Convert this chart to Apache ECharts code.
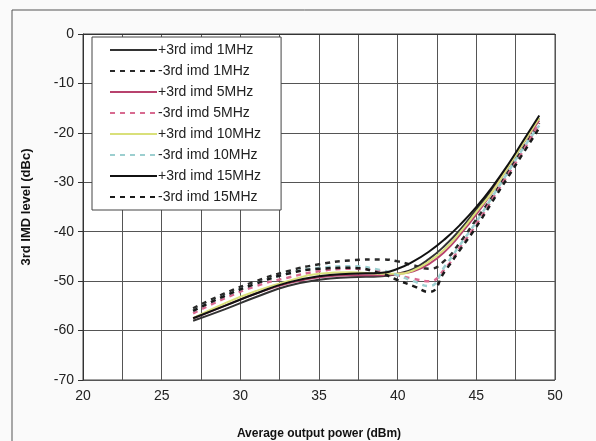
<!DOCTYPE html>
<html><head><meta charset="utf-8">
<script src="https://cdn.jsdelivr.net/npm/echarts@6/dist/echarts.min.js"></script>
<style>html,body{margin:0;padding:0;background:#fafafa}#c{width:596px;height:441px}</style>
</head><body><div id="c"></div>
<script>
const xs = [27, 29, 31, 33, 35, 37, 39, 40, 41, 42, 43, 44, 45, 46, 47, 48, 49];
const names = ['+3rd imd 1MHz','-3rd imd 1MHz','+3rd imd 5MHz','-3rd imd 5MHz','+3rd imd 10MHz','-3rd imd 10MHz','+3rd imd 15MHz','-3rd imd 15MHz'];
const p1  = [-58, -55.7, -53.2, -51, -49.7, -49.2, -49, -48.5, -47.5, -45.5, -42.8, -39.5, -35.5, -31.5, -27, -22, -17];
const m1  = [-55.5, -52.5, -50, -48, -46.6, -45.8, -45.6, -46, -46.8, -47.5, -45.8, -42, -37.5, -33, -28, -23, -18];
const p5  = [-57.5, -55, -52.5, -50.5, -49.2, -48.8, -48.8, -48.5, -48, -46.5, -44, -40.5, -36.5, -32, -27, -22, -17.5];
const m5  = [-56.5, -53.5, -51, -49.3, -48, -47.5, -48, -48.8, -49.5, -50, -47.5, -43, -38.5, -33.5, -28.5, -23.5, -18];
const p10 = [-57.5, -54.5, -52, -50, -48.5, -48.2, -48.5, -48.5, -47.8, -46, -43.5, -40, -36, -32, -27, -22, -17];
const m10 = [-56, -53, -50.5, -48.5, -47.3, -47, -47.8, -48.8, -50, -51, -47, -42.5, -38, -33, -28, -23, -18.5];
const p15 = [-57.5, -55, -52.5, -50.3, -49, -48.5, -48.3, -47.5, -46, -44, -41.5, -38.5, -35, -31, -26.5, -21.5, -16.5];
const m15 = [-56, -53, -50.5, -48.5, -47.5, -47.3, -48.5, -49.8, -51, -52.2, -48, -43.5, -39, -34, -29, -24, -19];
const values = [p1, m1, p5, m5, p10, m10, p15, m15];
const colors = ['#333333', '#2a2a2a', '#b8436e', '#d86a90', '#d9e07a', '#9ccfd0', '#111111', '#1a1a1a'];
const dashed = [false, true, false, true, false, true, false, true];

const chart = echarts.init(document.getElementById('c'), null, {renderer: 'canvas'});
const series = names.map((n, i) => ({
  name: n, type: 'line', smooth: true, symbol: 'none',
  data: xs.map((x, j) => [x, values[i][j]]),
  lineStyle: {color: colors[i], width: dashed[i] ? 2.5 : 2, type: dashed[i] ? [5, 5] : 'solid'},
  itemStyle: {color: colors[i]},
  z: 3
}));
chart.setOption({
  backgroundColor: '#fafafa',
  animation: false,
  textStyle: {fontFamily: 'Liberation Sans, Arial, sans-serif'},
  graphic: [{type: 'rect', shape: {x: 12, y: 10, width: 620, height: 480}, style: {fill: 'none', stroke: '#555', lineWidth: 1}, z: -1}],
  grid: {left: 83, right: 41, top: 34, bottom: 61, outerBoundsMode: 'none', containLabel: false, show: true, backgroundColor: '#ffffff', borderColor: '#444', borderWidth: 1},
  legend: {
    orient: 'vertical', left: 92, top: 37,
    padding: [6, 20, 6, 17], itemWidth: 47, itemHeight: 14, itemGap: 7,
    backgroundColor: '#ffffff', borderColor: '#444', borderWidth: 1,
    itemStyle: {opacity: 0},
    textStyle: {fontSize: 14, color: '#222', padding: [0, 0, 0, -4]},
    data: names.map((n) => ({name: n}))
  },
  xAxis: {
    type: 'value', min: 20, max: 50, interval: 2.5,
    name: 'Average output power (dBm)', nameLocation: 'middle', nameGap: 48,
    nameTextStyle: {fontSize: 12, fontWeight: 'bold', color: '#111'},
    axisLine: {show: true, lineStyle: {color: '#333'}},
    axisTick: {show: false},
    axisLabel: {fontSize: 14, color: '#222', margin: 9, formatter: v => (v % 5 === 0 ? String(v) : '')},
    splitLine: {show: true, lineStyle: {color: '#555', width: 1}}
  },
  yAxis: {
    type: 'value', min: -70, max: 0, interval: 10,
    name: '3rd IMD level (dBc)', nameLocation: 'middle', nameGap: 50, nameRotate: 90,
    nameTextStyle: {fontSize: 13, fontWeight: 'bold', color: '#111'},
    axisLine: {show: true, lineStyle: {color: '#333'}},
    axisTick: {show: true, length: 5, inside: false, lineStyle: {color: '#333'}},
    axisLabel: {fontSize: 14, color: '#222', margin: 9},
    splitLine: {show: true, lineStyle: {color: '#555', width: 1}}
  },
  series: series
});
</script></body></html>
